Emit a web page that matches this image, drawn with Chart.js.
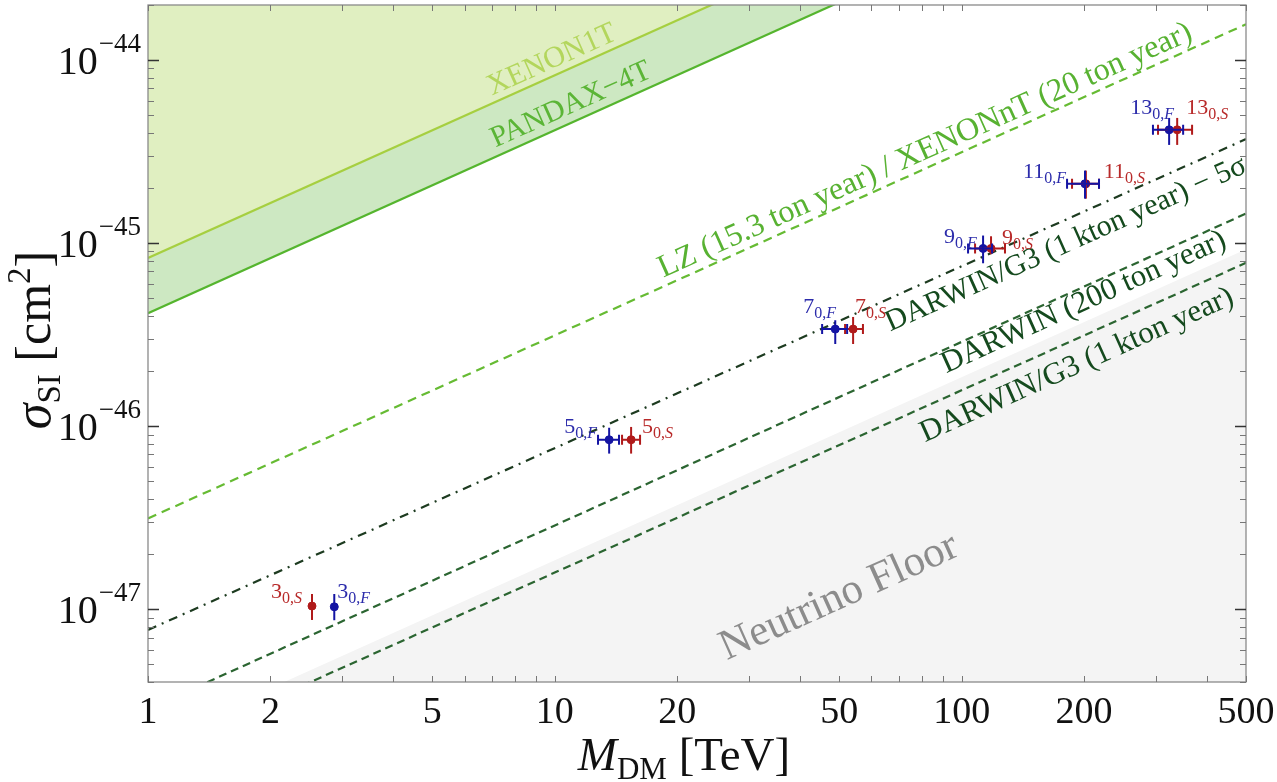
<!DOCTYPE html>
<html><head><meta charset="utf-8">
<script src="https://cdn.jsdelivr.net/npm/chart.js@4.4.1/dist/chart.umd.min.js"></script>
<style>html,body{margin:0;padding:0;background:#fff}canvas{display:block}</style>
</head><body>
<canvas id="c" width="1277" height="782"></canvas>
<script>
// ---------- axis labels ----------
const xTickLabels = [1, 2, 5, 10, 20, 50, 100, 200, 500];
const yTickValues = [1e-44, 1e-45, 1e-46, 1e-47];
const yTickExponents = ['−44', '−45', '−46', '−47'];

// ---------- bound lines (endpoints, M in TeV, sigma in cm^2) ----------
const xenon1tM = [1, 500];
const xenon1tS = [8.3e-46, 4.1e-43];
const pandaxM = [1, 500];
const pandaxS = [4.14e-46, 2.07e-43];
const lzM = [1, 500];
const lzS = [3.13e-47, 1.57e-44];
const darwin5sM = [1, 500];
const darwin5sS = [7.7e-48, 3.7e-45];
const darwin200M = [1, 500];
const darwin200S = [2.85e-48, 1.45e-45];
const darwinG3M = [1, 500];
const darwinG3S = [1.6e-48, 7.8e-46];
const nuFloorM = [1, 500];
const nuFloorS = [1.85e-48, 9.25e-46];

// ---------- benchmark points ----------
const pointNames = ['3', '5', '7', '9', '11', '13'];
// F series (blue)
const massF     = [2.87, 13.6, 48.9, 112.9, 201, 323.6];
const massFLow  = [null, 12.77, 45.4, 103.7, 181.6, 295.3];
const massFHigh = [null, 14.38, 52.3, 118.8, 217.6, 350.3];
const sigmaF     = [1.03e-47, 8.43e-47, 3.39e-46, 9.35e-46, 2.11e-45, 4.16e-45];
const sigmaFLow  = [8.7e-48, 7.08e-47, 2.81e-46, 7.76e-46, 1.75e-45, 3.44e-45];
const sigmaFHigh = [1.21e-47, 9.8e-47, 3.79e-46, 1.10e-45, 2.49e-45, 4.83e-45];
// S series (red)
const massS     = [2.53, 15.4, 54.1, 118.1, 202, 338.7];
const massSLow  = [null, 14.63, 51.7, 107.9, 186.8, 303.9];
const massSHigh = [null, 16.2, 57.2, 127.8, 217.6, 368.5];
const sigmaS     = [1.04e-47, 8.43e-47, 3.39e-46, 9.35e-46, 2.11e-45, 4.16e-45];
const sigmaSLow  = [8.73e-48, 7.08e-47, 2.81e-46, 8.7e-46, 1.75e-45, 3.44e-45];
const sigmaSHigh = [1.21e-47, 9.9e-47, 3.95e-46, 1.09e-45, 2.49e-45, 4.83e-45];

// ---------- helpers ----------
const pts = (m, s) => m.map((v, i) => ({x: v, y: s[i]}));
const SERIF = '"Liberation Serif", "DejaVu Serif", serif';

const BLUE = '#1414a3', RED = '#b01a1a';
const BLUE_T = '#2c2cab', RED_T = '#b82a2a';

// label placement (pixel offsets from the point: left x, baseline y)
const labelOffF = [[3, -9], [-45, -7], [-32, -16], [-39, -5], [-62, -6], [-39, -16]];
const labelOffS = [[-41, -8], [11, -7], [2, -16], [11, -4], [18, -6], [9, -16]];

const lineLabels = [
  {text: 'XENON1T', line: [xenon1tM, xenon1tS], at: [9.84, 1.0e-44], color: '#b3d65c', size: 30},
  {text: 'PANDAX−4T', line: [pandaxM, pandaxS], at: [10.96, 5.69e-45], color: '#5bb536', size: 30},
  {text: 'LZ (15.3 ton year) / XENONnT (20 ton year)', line: [lzM, lzS], at: [81.3, 3.2e-45], color: '#58b232', size: 32},
  {text: 'DARWIN/G3 (1 kton year) − 5σ', line: [darwin5sM, darwin5sS], at: [180.6, 9.84e-46], color: '#154a1e', size: 30},
  {text: 'DARWIN (200 ton year)', line: [darwin200M, darwin200S], at: [199.5, 4.75e-46], color: '#154a1e', size: 31},
  {text: 'DARWIN/G3 (1 kton year)', line: [darwinG3M, darwinG3S], at: [192, 2.15e-46], color: '#154a1e', size: 31},
  {text: 'Neutrino Floor', line: [nuFloorM, nuFloorS], at: [50.0, 1.16e-47], color: '#8c8c8c', size: 43}
];

function drawRich(ctx, parts, x, y, align) {
  let w = 0;
  parts.forEach(p => { ctx.font = (p.italic ? 'italic ' : '') + p.size + 'px ' + SERIF; p.w = ctx.measureText(p.t).width; w += p.w; });
  let cx = align === 'center' ? x - w / 2 : (align === 'right' ? x - w : x);
  parts.forEach(p => {
    ctx.font = (p.italic ? 'italic ' : '') + p.size + 'px ' + SERIF;
    ctx.fillText(p.t, cx, y + (p.dy || 0));
    cx += p.w;
  });
  return w;
}

const decorPlugin = {
  id: 'decor',
  afterDatasetsDraw(chart) {
    const {ctx, scales: {x, y}, chartArea: a} = chart;
    ctx.save();
    ctx.beginPath(); ctx.rect(a.left, a.top, a.right - a.left, a.bottom - a.top); ctx.clip();
    // line labels
    lineLabels.forEach(L => {
      const [mm, ss] = L.line;
      const ang = Math.atan2(y.getPixelForValue(ss[1]) - y.getPixelForValue(ss[0]),
                             x.getPixelForValue(mm[1]) - x.getPixelForValue(mm[0]));
      ctx.save();
      ctx.translate(x.getPixelForValue(L.at[0]), y.getPixelForValue(L.at[1]));
      ctx.rotate(ang);
      ctx.fillStyle = L.color;
      ctx.font = L.size + 'px ' + SERIF;
      ctx.textAlign = 'center'; ctx.textBaseline = 'middle';
      ctx.fillText(L.text, 0, 0);
      ctx.restore();
    });
    // error bars
    function bars(m, mLo, mHi, s, sLo, sHi, color) {
      ctx.strokeStyle = color; ctx.lineWidth = 2;
      for (let i = 0; i < m.length; i++) {
        const px = x.getPixelForValue(m[i]), py = y.getPixelForValue(s[i]);
        ctx.beginPath();
        ctx.moveTo(px, y.getPixelForValue(sLo[i])); ctx.lineTo(px, y.getPixelForValue(sHi[i]));
        ctx.stroke();
        if (mLo[i] != null) {
          const x0 = x.getPixelForValue(mLo[i]), x1 = x.getPixelForValue(mHi[i]);
          ctx.beginPath();
          ctx.moveTo(x0, py); ctx.lineTo(x1, py);
          ctx.moveTo(x0, py - 5); ctx.lineTo(x0, py + 5);
          ctx.moveTo(x1, py - 5); ctx.lineTo(x1, py + 5);
          ctx.stroke();
        }
      }
    }
    bars(massS, massSLow, massSHigh, sigmaS, sigmaSLow, sigmaSHigh, RED);
    bars(massF, massFLow, massFHigh, sigmaF, sigmaFLow, sigmaFHigh, BLUE);
    // point labels
    ctx.textAlign = 'left'; ctx.textBaseline = 'alphabetic';
    function labels(m, s, offs, letter, color) {
      ctx.fillStyle = color;
      for (let i = 0; i < m.length; i++) {
        const px = x.getPixelForValue(m[i]) + offs[i][0], py = y.getPixelForValue(s[i]) + offs[i][1];
        drawRich(ctx, [
          {t: pointNames[i], size: 22},
          {t: '0,', size: 16, dy: 5},
          {t: letter, size: 16, italic: true, dy: 5}
        ], px, py, 'left');
      }
    }
    labels(massF, sigmaF, labelOffF, 'F', BLUE_T);
    labels(massS, sigmaS, labelOffS, 'S', RED_T);
    ctx.restore();
  },
  afterDraw(chart) {
    const {ctx, scales: {x, y}, chartArea: a} = chart;
    ctx.save();
    ctx.strokeStyle = '#8a8a8a'; ctx.lineWidth = 1.3;
    ctx.strokeRect(a.left, a.top, a.right - a.left, a.bottom - a.top);
    ctx.strokeStyle = '#777'; ctx.lineWidth = 1;
    // x ticks (inward, bottom and top)
    for (let e = Math.floor(Math.log10(x.min)); e <= Math.ceil(Math.log10(x.max)); e++) {
      for (let k = 1; k <= 9; k++) {
        const v = k * Math.pow(10, e);
        if (v < x.min * 0.999 || v > x.max * 1.001) continue;
        const px = Math.round(x.getPixelForValue(v)) + 0.5;
        ctx.beginPath();
        ctx.moveTo(px, a.bottom); ctx.lineTo(px, a.bottom - 6);
        ctx.moveTo(px, a.top); ctx.lineTo(px, a.top + 6);
        ctx.stroke();
      }
    }
    // y ticks (inward, left and right)
    for (let e = Math.floor(Math.log10(y.min)); e <= Math.ceil(Math.log10(y.max)); e++) {
      for (let k = 1; k <= 9; k++) {
        const v = k * Math.pow(10, e);
        if (v < y.min * 0.999 || v > y.max * 1.001) continue;
        const py = Math.round(y.getPixelForValue(v)) + 0.5;
        const len = k === 1 ? 11 : 6;
        ctx.lineWidth = k === 1 ? 1.4 : 1;
        ctx.strokeStyle = k === 1 ? '#333' : '#777';
        ctx.beginPath();
        ctx.moveTo(a.left, py); ctx.lineTo(a.left + len, py);
        ctx.moveTo(a.right, py); ctx.lineTo(a.right - len, py);
        ctx.stroke();
      }
    }
    // x tick labels
    ctx.fillStyle = '#111';
    ctx.font = '38px ' + SERIF;
    ctx.textAlign = 'center'; ctx.textBaseline = 'alphabetic';
    xTickLabels.forEach(v => ctx.fillText(String(v), x.getPixelForValue(v), 723));
    // y tick labels 10^n
    ctx.textAlign = 'left';
    yTickValues.forEach((v, i) => {
      const py = y.getPixelForValue(v);
      ctx.font = '27px ' + SERIF;
      const we = ctx.measureText(yTickExponents[i]).width;
      ctx.font = '40px ' + SERIF;
      const wb = ctx.measureText('10').width;
      const right = a.left - 7;
      ctx.fillText('10', right - we - wb - 1, py + 14);
      ctx.font = '27px ' + SERIF;
      ctx.fillText(yTickExponents[i], right - we, py - 8);
    });
    // axis titles
    ctx.fillStyle = '#111';
    drawRich(ctx, [
      {t: 'M', size: 47, italic: true},
      {t: 'DM', size: 31, dy: 9},
      {t: ' [TeV]', size: 47}
    ], 684, 770, 'center');
    ctx.save();
    ctx.translate(50, 340);
    ctx.rotate(-Math.PI / 2);
    drawRich(ctx, [
      {t: 'σ', size: 52, italic: true},
      {t: 'SI', size: 33, dy: 10},
      {t: ' [cm', size: 50},
      {t: '2', size: 33, dy: -20},
      {t: ']', size: 50}
    ], 0, 0, 'center');
    ctx.restore();
    ctx.restore();
  }
};

const lineDs = (label, m, s, color, dash, order) => ({
  type: 'line', label, data: pts(m, s), borderColor: color, borderWidth: 2.2,
  borderDash: dash, pointRadius: 0, fill: false, order, tension: 0
});

new Chart(document.getElementById('c'), {
  type: 'scatter',
  data: {
    datasets: [
      {type: 'line', label: 'Neutrino Floor', data: pts(nuFloorM, nuFloorS), borderWidth: 0,
       borderColor: 'rgba(0,0,0,0)', backgroundColor: '#f4f4f4', fill: 'start', pointRadius: 0, order: 30},
      {type: 'line', label: 'PANDAX-4T', data: pts(pandaxM, pandaxS), borderColor: '#55b52e', borderWidth: 2.2,
       backgroundColor: '#cde8c2', fill: 'end', pointRadius: 0, order: 29},
      {type: 'line', label: 'XENON1T', data: pts(xenon1tM, xenon1tS), borderColor: '#a6cf40', borderWidth: 2.2,
       backgroundColor: '#e0efc1', fill: 'end', pointRadius: 0, order: 28},
      lineDs('LZ', lzM, lzS, '#66bb33', [9, 6], 10),
      lineDs('DARWIN/G3 5sigma', darwin5sM, darwin5sS, '#1d3b20', [9, 6, 2, 6], 11),
      lineDs('DARWIN 200', darwin200M, darwin200S, '#2b6531', [8, 5], 12),
      lineDs('DARWIN/G3', darwinG3M, darwinG3S, '#2b6531', [8, 5], 13),
      {label: 'F', data: pts(massF, sigmaF), backgroundColor: BLUE, borderColor: BLUE, pointRadius: 4, order: 1},
      {label: 'S', data: pts(massS, sigmaS), backgroundColor: RED, borderColor: RED, pointRadius: 4, order: 2}
    ]
  },
  options: {
    responsive: false, animation: false, devicePixelRatio: 1,
    layout: {padding: {left: 0, right: 31, top: 4, bottom: 0}},
    plugins: {legend: {display: false}, tooltip: {enabled: false}},
    scales: {
      x: {type: 'logarithmic', min: 1, max: 500, grid: {display: false, drawTicks: false},
          border: {display: false}, ticks: {display: false},
          afterFit: s => { s.height = 100; }},
      y: {type: 'logarithmic', min: 4e-48, max: 2e-44, grid: {display: false, drawTicks: false},
          border: {display: false}, ticks: {display: false},
          afterFit: s => { s.width = 148; }}
    }
  },
  plugins: [decorPlugin]
});
</script>
</body></html>
